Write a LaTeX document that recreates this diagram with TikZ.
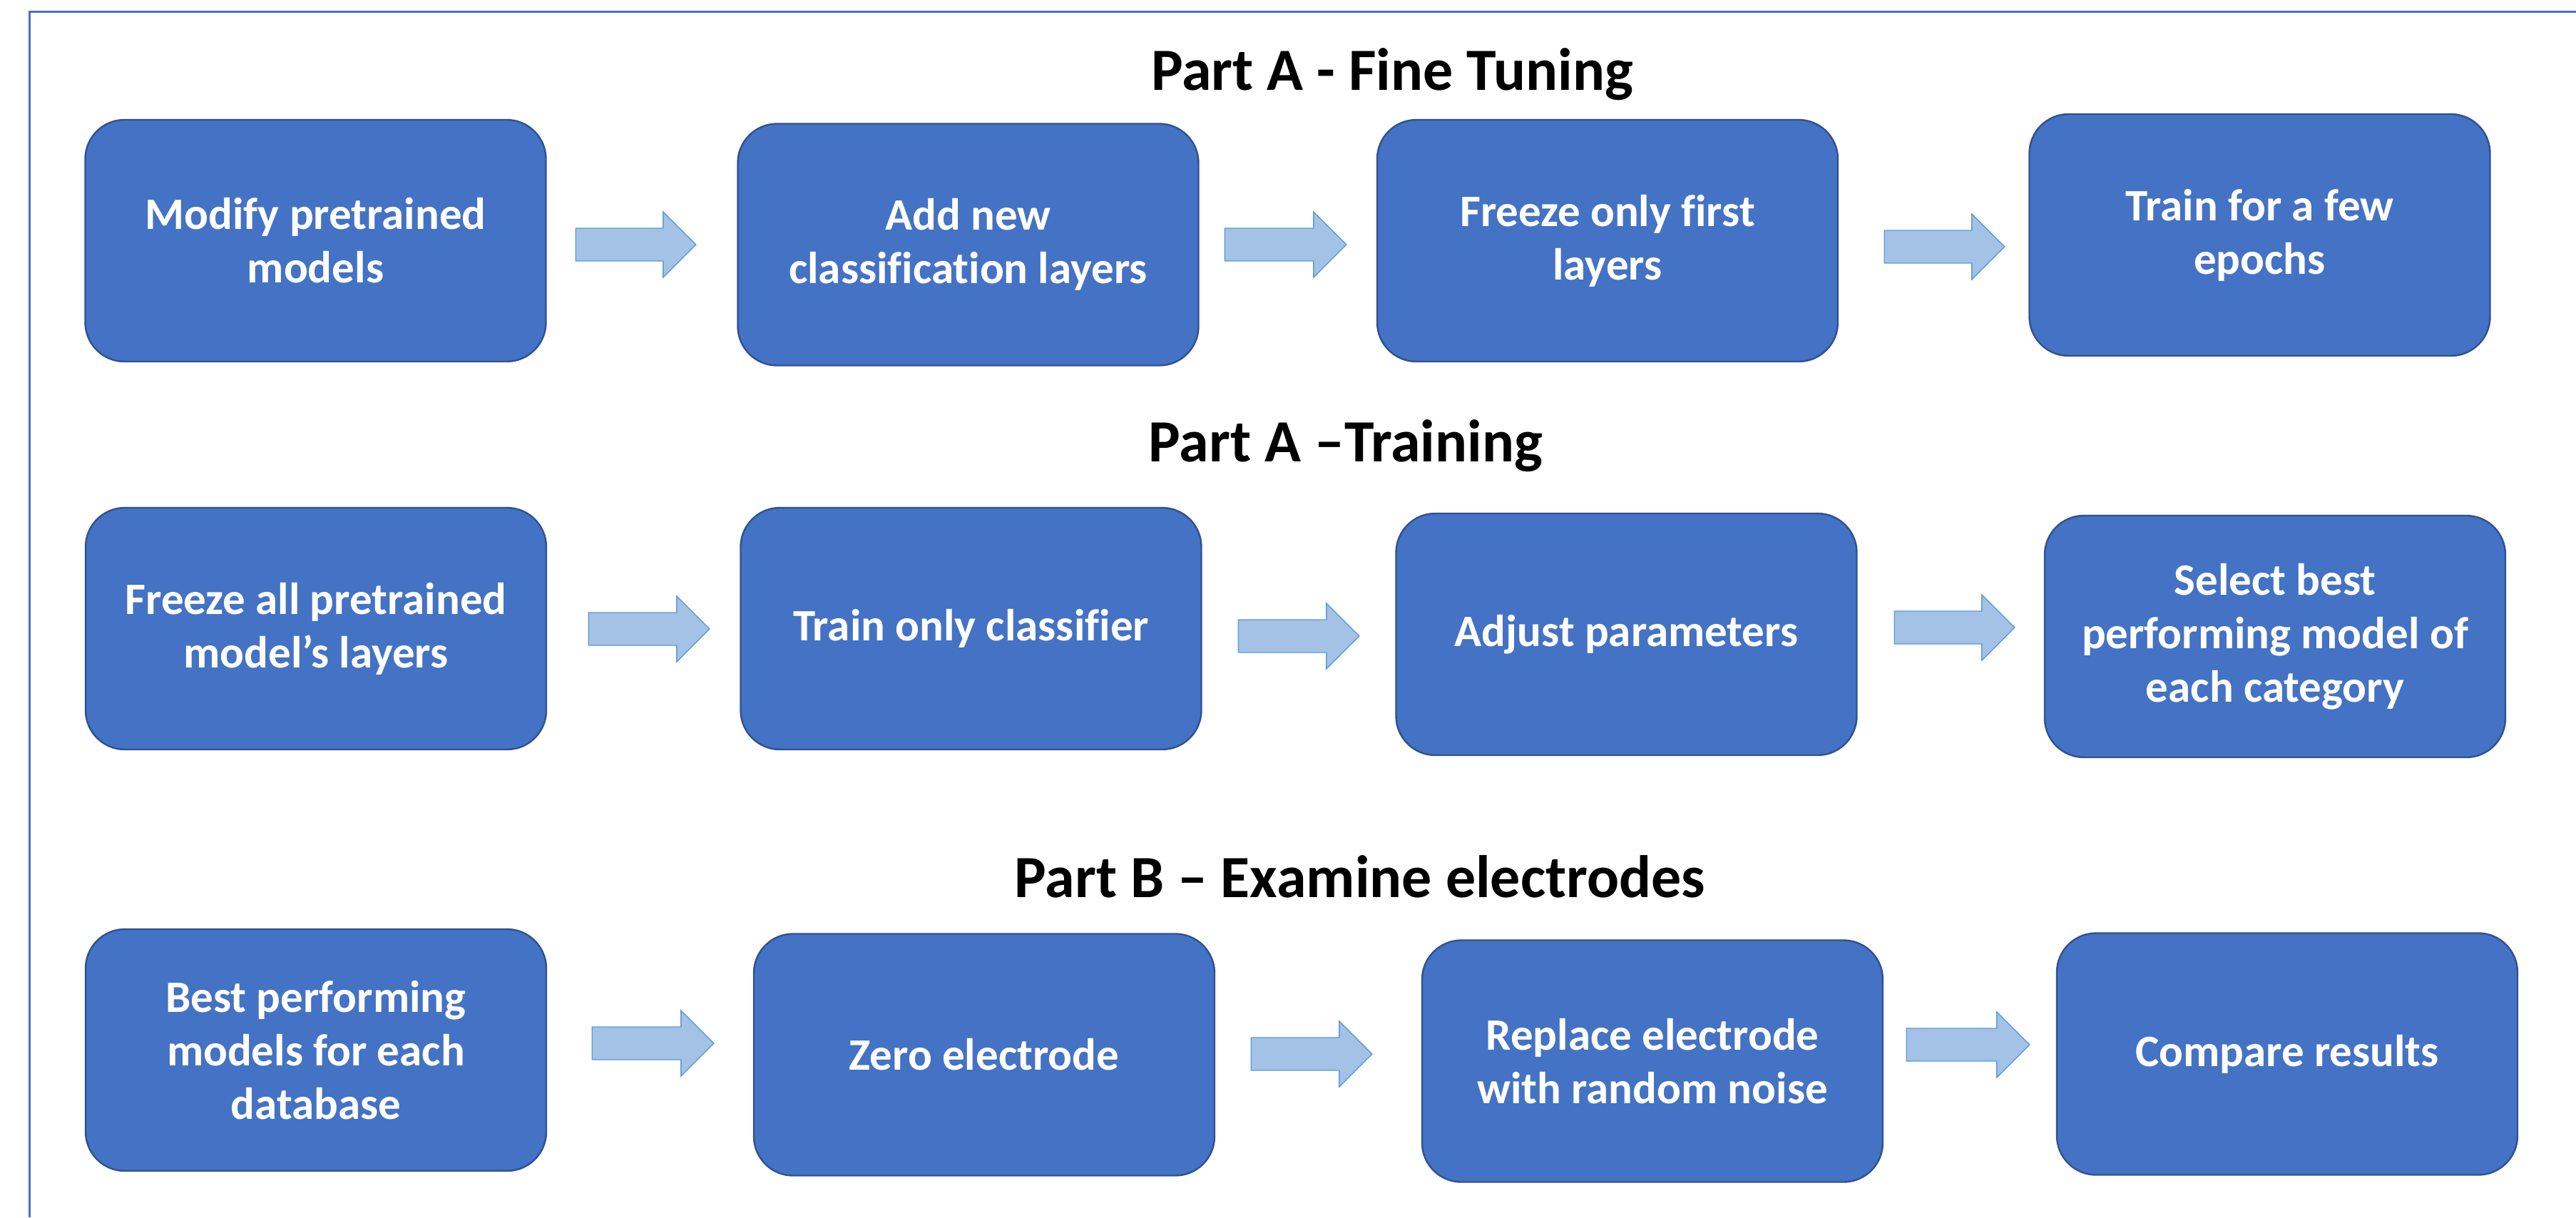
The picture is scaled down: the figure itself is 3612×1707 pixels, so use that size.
\documentclass[tikz,border=0pt]{standalone}
\usepackage{fontspec}
\setmainfont{Carlito}[Ligatures=NoCommon]
\usetikzlibrary{calc}

\definecolor{boxfill}{HTML}{4472C4}
\definecolor{boxline}{HTML}{2F528F}
\definecolor{arrowfill}{HTML}{A3C2E6}
\definecolor{arrowline}{HTML}{5B9BD5}
\definecolor{frameline}{HTML}{4A72B8}

\tikzset{
  stepbox/.style={draw=boxline, line width=0.6pt, fill=boxfill,
    rounded corners=13.75pt, minimum width=161.5pt, minimum height=84.75pt,
    inner sep=0pt, align=center, text=white,
    font=\bfseries\fontsize{15.75}{18.75}\selectfont},
  parttitle/.style={anchor=base, inner sep=0pt,
    font=\bfseries\fontsize{21}{25}\selectfont},
  blockarrowstyle/.style={fill=arrowfill, draw=arrowline, line width=0.35pt,
    line join=miter},
}

% Horizontal block arrow: tail at #1, tip at the x of #2 (same height as #1)
\newcommand\blockarrow[2]{%
  \path[blockarrowstyle] let \p1=(#1), \p2=(#2) in
    (\x1,\y1+5.75pt) -- (\x2-11.5pt,\y1+5.75pt) -- (\x2-11.5pt,\y1+11.5pt)
    -- (\x2,\y1) -- (\x2-11.5pt,\y1-11.5pt) -- (\x2-11.5pt,\y1-5.75pt)
    -- (\x1,\y1-5.75pt) -- cycle;}

\begin{document}
\begin{tikzpicture}[x=0.25pt, y=-0.25pt]
\useasboundingbox (0,0) rectangle (3612,1707);

% outer frame (left and top edges)
\draw[frameline, line width=0.75pt] (41,1707) -- (41,16) -- (3612,16);

% section titles
\node[parttitle] (t1) at (1952,126) {Part A - Fine Tuning};
\node[parttitle] (t2) at (1887,647) {Part A –Training};
\node[parttitle] (t3) at (1907,1258) {Part B – Examine electrodes};

% Part A - fine tuning
\node[stepbox] (b1) at (442.5,337.5) {Modify pretrained\\models};
\node[stepbox] (b2) at (1357.5,343) {Add new\\classification layers};
\node[stepbox] (b3) at (2254,337.5) {Freeze only first\\layers};
\node[stepbox] (b4) at (3168.5,329.5) {Train for a few\\epochs};

% Part A - training
\node[stepbox] (c1) at (443,881.5) {Freeze all pretrained\\model’s layers};
\node[stepbox] (c2) at (1361.5,881.5) {Train only classifier};
\node[stepbox] (c3) at (2280.5,889.5) {Adjust parameters};
\node[stepbox] (c4) at (3190,892.5) {Select best\\performing model of\\each category};

% Part B - examine electrodes
\node[stepbox] (d1) at (443,1472.5) {Best performing\\models for each\\database};
\node[stepbox] (d2) at (1380,1479) {Zero electrode};
\node[stepbox] (d3) at (2317,1488) {Replace electrode\\with random noise};
\node[stepbox] (d4) at (3207,1478) {Compare results};

% block arrows between steps
\blockarrow{$(b1.east)+(40.5,5.5)$}{$(b2.west)+(-57.5,0)$}
\blockarrow{$(b2.east)+(35.5,0)$}{$(b3.west)+(-42,0)$}
\blockarrow{$(b3.east)+(64,8.5)$}{$(b4.west)+(-33.5,0)$}

\blockarrow{$(c1.east)+(58,0.5)$}{$(c2.west)+(-42.5,0)$}
\blockarrow{$(c2.east)+(50.5,10.5)$}{$(c3.west)+(-50.5,0)$}
\blockarrow{$(c3.east)+(51.5,-9.5)$}{$(c4.west)+(-41,0)$}

\blockarrow{$(d1.east)+(63,-9.5)$}{$(d2.west)+(-55,0)$}
\blockarrow{$(d2.east)+(50,-1)$}{$(d3.west)+(-69,0)$}
\blockarrow{$(d3.east)+(32,-23)$}{$(d4.west)+(-37,0)$}
\end{tikzpicture}
\end{document}
